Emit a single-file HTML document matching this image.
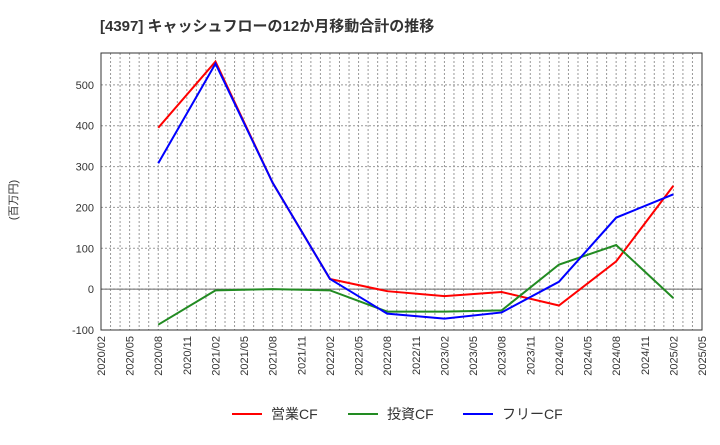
<!DOCTYPE html>
<html><head><meta charset="utf-8"><style>
body{margin:0;background:#fff;font-family:"Liberation Sans","Noto Sans CJK JP",sans-serif;}
</style></head><body>
<svg id="c" width="720" height="440" xmlns="http://www.w3.org/2000/svg" font-family="Liberation Sans, Noto Sans CJK JP, sans-serif">
<text x="100" y="31" font-size="15" font-weight="bold" fill="#333">[4397]  キャッシュフローの12か月移動合計の推移</text>
<text transform="translate(17,200) rotate(-90)" text-anchor="middle" font-size="11" fill="#333">(百万円)</text>
<g id="grid"></g><g id="axes"></g><g id="series"></g><g id="legend"></g>
</svg>
<script>
const xLabels=["2020/02","2020/05","2020/08","2020/11","2021/02","2021/05","2021/08","2021/11","2022/02","2022/05","2022/08","2022/11","2023/02","2023/05","2023/08","2023/11","2024/02","2024/05","2024/08","2024/11","2025/02","2025/05"];
const yTicks=[-100,0,100,200,300,400,500];
const pointIdx=[2,4,6,8,10,12,14,16,18,20];
const opCF=[395,557,260,25,-5,-17,-7,-40,68,253];
const invCF=[-87,-3,0,-3,-55,-55,-52,60,108,-22];
const freeCF=[308,552,260,25,-60,-72,-57,18,175,232];
const seriesNames=["営業CF","投資CF","フリーCF"];
const colors=["#ff0000","#228b22","#0000ff"];
const NS="http://www.w3.org/2000/svg";
const L=101,R=702,T=53,B=330,yMin=-100,yMax=578;
const xs=i=>L+(R-L)*i/(xLabels.length-1);
const ys=v=>B-(v-yMin)/(yMax-yMin)*(B-T);
function mk(tag,at,parent){const e=document.createElementNS(NS,tag);for(const k in at)e.setAttribute(k,at[k]);parent.appendChild(e);return e;}
const grid=document.getElementById('grid'),axes=document.getElementById('axes'),ser=document.getElementById('series'),leg=document.getElementById('legend');
for(let m=1;m<(xLabels.length-1)*3;m++){const x=L+(R-L)*m/((xLabels.length-1)*3);
const g=mk('line',{x1:x,x2:x,y1:T,y2:B,stroke:'#999','stroke-dasharray':'2,2','stroke-width':1},grid);

}
yTicks.forEach(v=>{const y=ys(v);
const g=mk('line',{x1:L,x2:R,y1:y,y2:y,stroke:'#999','stroke-dasharray':'2,2','stroke-width':1},grid);


const t=mk('text',{x:L-7,y:y+4,'text-anchor':'end','font-size':11,fill:'#333'},axes);t.textContent=v;

});
const zl=mk('line',{x1:L,x2:R,y1:ys(0),y2:ys(0),stroke:'#666','stroke-width':1},grid);


const fr=mk('rect',{x:L,y:T,width:R-L,height:B-T,fill:'none',stroke:'#333','stroke-width':1},axes);


xLabels.forEach((s,i)=>{const x=xs(i);
const t=mk('text',{transform:`translate(${x+4},${B+6}) rotate(-90)`,'text-anchor':'end','font-size':11,fill:'#333'},axes);t.textContent=s;

});
[opCF,invCF,freeCF].forEach((d,k)=>{
const p=mk('polyline',{points:d.map((v,j)=>xs(pointIdx[j])+','+ys(v)).join(' '),fill:'none',stroke:colors[k],'stroke-width':2},ser);

});
const lx=[232,348,463];
seriesNames.forEach((n,k)=>{
const l=mk('line',{x1:lx[k],x2:lx[k]+30,y1:414,y2:414,stroke:colors[k],'stroke-width':2},leg);


const t=mk('text',{x:lx[k]+39,y:419,'font-size':14,fill:'#333'},leg);t.textContent=n;

});
</script>
</body></html>
